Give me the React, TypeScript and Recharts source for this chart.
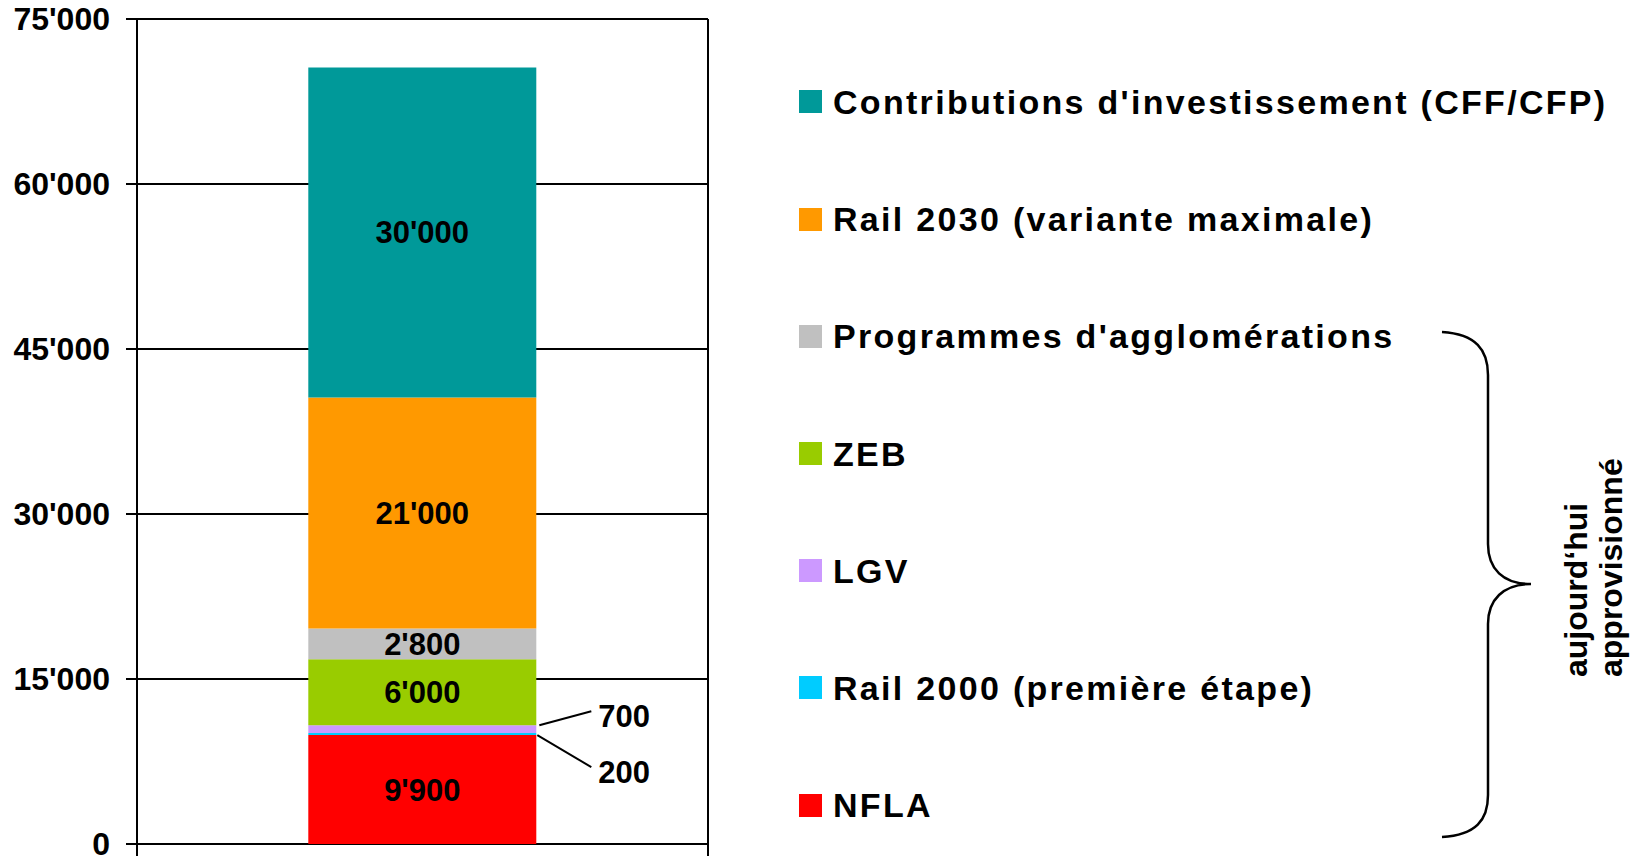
import React from "react";
import { Bar, BarChart, CartesianGrid, LabelList, Legend, XAxis, YAxis } from "recharts";

const FONT = '"Liberation Sans", Arial, Helvetica, sans-serif';

// series, stacked from the bottom of the bar to the top
const seriesKeys = ["nfla", "rail2000", "lgv", "zeb", "agglo", "rail2030", "contrib"];
const seriesNames = [
  "NFLA",
  "Rail 2000 (première étape)",
  "LGV",
  "ZEB",
  "Programmes d'agglomérations",
  "Rail 2030 (variante maximale)",
  "Contributions d'investissement (CFF/CFP)",
];
const seriesValues = [9900, 200, 700, 6000, 2800, 21000, 30000];
const seriesColors = ["#FF0000", "#00CCFF", "#CC99FF", "#99CC00", "#C0C0C0", "#FF9900", "#009999"];
// small segments get their label outside the bar, with a leader line
const outsideLabel: Record<string, "up" | "down"> = { lgv: "up", rail2000: "down" };

const yTicks = [0, 15000, 30000, 45000, 60000, 75000];
// a little room under zero so the frame's side lines run past the baseline (Excel look)
const yDomain = [-1091, 75000];
const braceText = ["aujourd‘hui", "approvisionné"];

const row: Record<string, string | number> = { name: "total" };
seriesKeys.forEach((k, i) => {
  row[k] = seriesValues[i];
});
const data = [row];

function fmt(v: number | string) {
  return String(v).replace(/\B(?=(\d{3})+(?!\d))/g, "'");
}

function SideLabel(props: any) {
  const { x, y, width, height, value, dir } = props;
  const right = Number(x) + Number(width);
  const top = Number(y);
  const bottom = top + Number(height);
  const a = dir === "up" ? { x: right + 3, y: top } : { x: right + 1, y: bottom };
  const b = dir === "up" ? { x: right + 55, y: top - 14 } : { x: right + 55, y: bottom + 32 };
  const ty = dir === "up" ? top - 9 : bottom + 37;
  return (
    <g>
      <line x1={a.x} y1={a.y} x2={b.x} y2={b.y} stroke="#000" strokeWidth={2} />
      <text
        x={right + 62}
        y={ty}
        dominantBaseline="central"
        fontFamily={FONT}
        fontSize={31}
        fontWeight="bold"
        fill="#000"
      >
        {fmt(value)}
      </text>
    </g>
  );
}

function LegendList() {
  const order = seriesKeys.map((_, i) => i).reverse();
  return (
    <div style={{ fontFamily: FONT }}>
      {order.map((i) => (
        <div key={seriesKeys[i]} style={{ height: 117.2, display: "flex", alignItems: "center" }}>
          <span
            style={{
              display: "inline-block",
              width: 23,
              height: 23,
              background: seriesColors[i],
              marginRight: 11,
              flexShrink: 0,
            }}
          />
          <span
            style={{
              fontSize: 34,
              fontWeight: "bold",
              letterSpacing: 2.3,
              lineHeight: 1,
              whiteSpace: "nowrap",
              color: "#000",
            }}
          >
            {seriesNames[i]}
          </span>
        </div>
      ))}
    </div>
  );
}

export default function App() {
  return (
    <div
      style={{
        position: "absolute",
        left: 0,
        top: 0,
        width: 1633,
        height: 860,
        background: "#fff",
        overflow: "hidden",
      }}
    >
      <BarChart
        width={1633}
        height={860}
        data={data}
        margin={{ top: 19, right: 925, bottom: 4, left: 0 }}
        barCategoryGap="30%"
      >
        <CartesianGrid
          stroke="#000"
          strokeWidth={2}
          syncWithTicks
          verticalCoordinatesGenerator={({ offset }: any) => [offset.left, offset.left + offset.width]}
        />
        <XAxis dataKey="name" hide />
        <YAxis
          width={137}
          domain={yDomain}
          ticks={yTicks}
          allowDataOverflow
          tickFormatter={fmt}
          tickSize={11}
          tickMargin={16}
          interval={0}
          axisLine={{ stroke: "#000", strokeWidth: 2 }}
          tickLine={{ stroke: "#000", strokeWidth: 2 }}
          tick={{ fontSize: 32, fontWeight: "bold", fill: "#000", fontFamily: FONT }}
        />
        {seriesKeys.map((k, i) => (
          <Bar
            key={k}
            dataKey={k}
            name={seriesNames[i]}
            stackId="a"
            fill={seriesColors[i]}
            isAnimationActive={false}
          >
            {outsideLabel[k] ? (
              <LabelList dataKey={k} content={(p: any) => <SideLabel {...p} dir={outsideLabel[k]} />} />
            ) : (
              <LabelList
                dataKey={k}
                position="center"
                formatter={(v: any) => fmt(v)}
                fill="#000"
                fontSize={31}
                fontWeight="bold"
                fontFamily={FONT}
              />
            )}
          </Bar>
        ))}
        <Legend
          layout="vertical"
          align="center"
          verticalAlign="middle"
          wrapperStyle={{ position: "absolute", left: 799, top: 43.4, width: 834, height: 820 }}
          content={() => <LegendList />}
        />
      </BarChart>
      <svg
        width={1633}
        height={860}
        style={{ position: "absolute", left: 0, top: 0, pointerEvents: "none" }}
      >
        <path
          d="M1442,332 C1476,334 1488,350 1488,375 L1488,544 C1488,569 1503,584 1531,584 C1503,584 1488,600 1488,624 L1488,795 C1488,820 1476,835 1442,837"
          fill="none"
          stroke="#000"
          strokeWidth={2.5}
        />
        {braceText.map((t, i) => (
          <text
            key={t}
            transform={`translate(${1587 + i * 35}, 677) rotate(-90)`}
            fontFamily={FONT}
            fontSize={32}
            fontWeight="bold"
            fill="#000"
          >
            {t}
          </text>
        ))}
      </svg>
    </div>
  );
}
